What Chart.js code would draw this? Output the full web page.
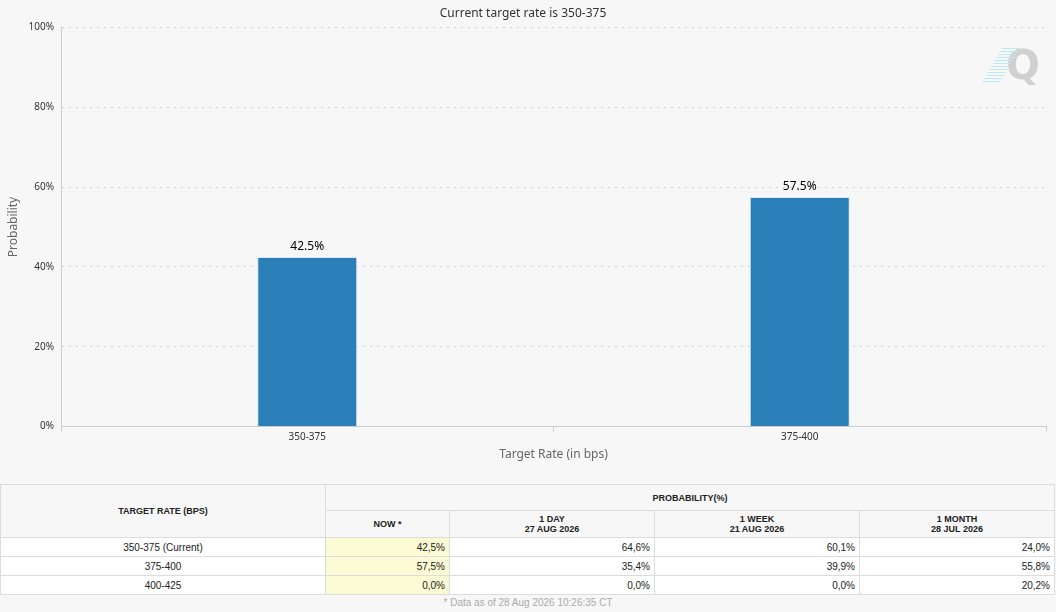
<!DOCTYPE html>
<html>
<head>
<meta charset="utf-8">
<script src="https://cdn.jsdelivr.net/npm/chart.js@4.4.1/dist/chart.umd.min.js"></script>
<style>
  body { margin: 0; background: #f7f7f7; width: 1056px; height: 612px; overflow: hidden; font-family: "Liberation Sans", Arial, sans-serif; }
  #wrap { position: relative; width: 1056px; height: 478px; }
  #logo { position: absolute; left: 1006px; top: 42px; font: bold 40px "DejaVu Sans", sans-serif; color: #d0d0d0; }
  #logo span { position: absolute; left: -14px; top: 6px; width: 18px; height: 34px;
    background: repeating-linear-gradient(180deg, #bfe9f2 0 1px, transparent 1px 3px); transform: skewX(-30deg); }
  table { border-collapse: collapse; table-layout: fixed; position: absolute; top: 484px; left: 0; width: 1055px; font-size: 10px; color: #222; }
  th { font-size: 9px; font-weight: bold; border: 1px solid #dcdcdc; background: #f7f7f7; text-align: center; padding: 0; }
  td { border: 1px solid #dcdcdc; background: #fff; height: 18px; padding: 0 4px; text-align: right; }
  td.rate { text-align: center; }
  td.now { background: #fafad4; }
  #note { position: absolute; top: 597px; left: 0; width: 1056px; text-align: center; font-size: 10px; color: #aaa; }
</style>
</head>
<body>
<div id="wrap">
  <canvas id="myChart" width="1056" height="478"></canvas>
  <div id="logo"><span></span>Q</div>
</div>
<table id="probTable"></table>
<div id="note">* Data as of 28 Aug 2026 10:26:35 CT</div>
<script>
var rateLabels = ["350-375", "375-400"];
var nowValues = [42.5, 57.5];
var yTicks = [0, 20, 40, 60, 80, 100];

// table data
var tableRates = ["350-375 (Current)", "375-400", "400-425"];
var tableNow = ["42,5%", "57,5%", "0,0%"];
var tableDay = ["64,6%", "35,4%", "0,0%"];
var tableWeek = ["60,1%", "39,9%", "0,0%"];
var tableMonth = ["24,0%", "55,8%", "20,2%"];

var chartFont = "'Noto Sans', sans-serif";

// draws the value above each bar
var barLabels = {
  id: "barLabels",
  afterDatasetsDraw: function(chart) {
    var ctx = chart.ctx;
    var meta = chart.getDatasetMeta(0);
    ctx.save();
    ctx.font = "12px " + chartFont;
    ctx.fillStyle = "#000";
    ctx.textAlign = "center";
    ctx.textBaseline = "bottom";
    meta.data.forEach(function(bar, i) {
      ctx.fillText(chart.data.datasets[0].data[i].toFixed(1) + "%", bar.x, bar.y - 4);
    });
    ctx.restore();
  }
};

new Chart("myChart", {
  type: "bar",
  data: {
    labels: rateLabels,
    datasets: [{
      data: nowValues,
      backgroundColor: "#2b7fb8",
      borderColor: "#d7e8f3",
      borderWidth: 1,
      barPercentage: 0.203,
      categoryPercentage: 1
    }]
  },
  options: {
    responsive: false,
    animation: false,
    layout: { padding: { left: 0, right: 10, bottom: 12, top: 0 } },
    plugins: {
      legend: { display: false },
      tooltip: { enabled: false },
      title: {
        display: true,
        text: "Current target rate is 350-375",
        color: "#333",
        font: { family: chartFont, size: 12, weight: "normal" },
        padding: { top: 6, bottom: 7 }
      }
    },
    scales: {
      x: {
        grid: { display: true, drawOnChartArea: false, tickLength: 5, color: "#ccc" },
        border: { color: "#ccc" },
        ticks: { color: "#333", font: { family: chartFont, size: 10 }, padding: 0 },
        title: {
          display: true,
          text: "Target Rate (in bps)",
          color: "#666",
          font: { family: chartFont, size: 12 },
          padding: { top: 4, bottom: 4 }
        }
      },
      y: {
        min: 0,
        max: 100,
        afterBuildTicks: function(scale) {
          scale.ticks = yTicks.map(function(v) { return { value: v }; });
        },
        afterFit: function(scale) { scale.width = 61; },
        grid: { color: "#d0d0d0", drawTicks: false },
        border: { color: "#ccc", dash: [2, 5] },
        ticks: {
          color: "#333",
          font: { family: chartFont, size: 10 },
          padding: 7,
          callback: function(v) { return v + "%"; }
        },
        title: {
          display: true,
          text: "Probability",
          color: "#666",
          font: { family: chartFont, size: 12 },
          padding: { top: 6, bottom: 0 }
        }
      }
    }
  },
  plugins: [barLabels]
});

// build the table below the chart
var html = "<colgroup><col style='width:325px'><col style='width:124px'><col style='width:205px'>" +
  "<col style='width:205px'><col></colgroup>" +
  "<tr><th rowspan='2' style='height:52px'>TARGET RATE (BPS)</th>" +
  "<th colspan='4' style='height:25px'>PROBABILITY(%)</th></tr>" +
  "<tr style='height:27px'><th>NOW *</th>" +
  "<th>1 DAY<br>27 AUG 2026</th>" +
  "<th>1 WEEK<br>21 AUG 2026</th>" +
  "<th>1 MONTH<br>28 JUL 2026</th></tr>";
for (var i = 0; i < tableRates.length; i++) {
  html += "<tr><td class='rate'>" + tableRates[i] + "</td>" +
    "<td class='now'>" + tableNow[i] + "</td>" +
    "<td>" + tableDay[i] + "</td>" +
    "<td>" + tableWeek[i] + "</td>" +
    "<td>" + tableMonth[i] + "</td></tr>";
}
document.getElementById("probTable").innerHTML = html;
</script>
</body>
</html>
